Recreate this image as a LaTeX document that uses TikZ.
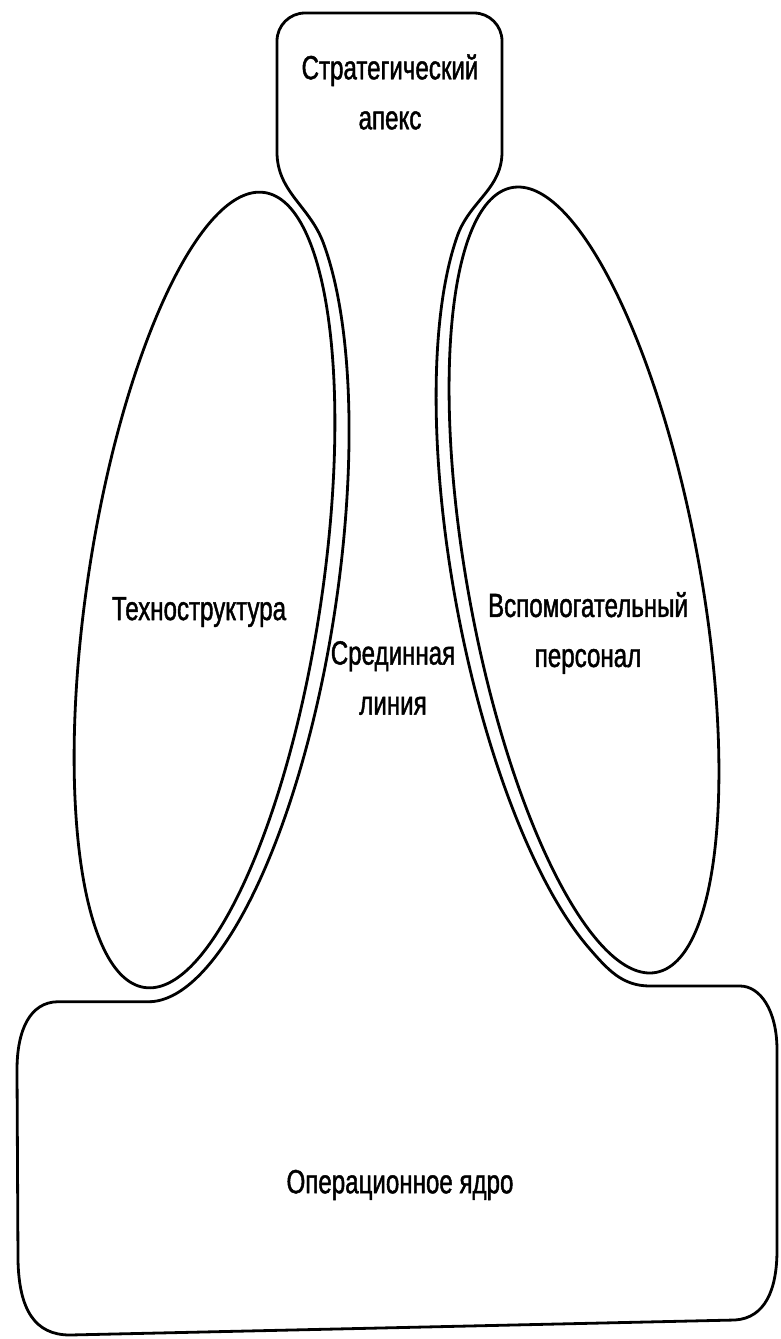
\documentclass[tikz,border=0pt]{standalone}
\usepackage{fontspec}
\setmainfont{Liberation Sans}[FakeStretch=0.72,FakeBold=1.3]
\begin{document}
\begin{tikzpicture}[x=1pt,y=1pt,line width=2.8pt,line cap=round,line join=round,
  lbl/.style={font=\fontsize{33.5}{50}\selectfont,align=center,inner sep=0pt}]
\useasboundingbox (0,0) rectangle (780,-1339);
\coordinate (ctl) at (58,0);
% Technostructure (left ellipse) and its outer offset (middle line boundary)
\begin{scope}[shift={(204.5,-590)},rotate=-8.6]
  \draw (0,0) ellipse (117pt and 402pt);
  \coordinate (Lb) at ({132*cos(-86.5)},{416*sin(-86.5)});
  \coordinate (Lt) at ({132*cos(60)},{416*sin(60)});
  \draw plot[domain=-86.5:60,samples=90,smooth] ({132*cos(\x)},{416*sin(\x)});
\end{scope}
% Support staff (right ellipse) and its outer offset
\begin{scope}[shift={(584,-580)},rotate=10.4]
  \draw (0,0) ellipse (116pt and 399pt);
  \coordinate (Rb) at ({130*cos(242)},{412*sin(242)});
  \coordinate (Rt) at ({130*cos(118)},{412*sin(118)});
  \draw plot[domain=118:242,samples=90,smooth] ({130*cos(\x)},{412*sin(\x)});
\end{scope}
% Strategic apex
\draw (Lt) to[out=110,in=-90] (277,-152)
  [rounded corners=28pt] -- (277,-13) -- (502,-13) [sharp corners] -- (502,-152)
  to[out=-90,in=68] (Rt);
% Operating core
\draw (Lb) -- (Lb -| ctl)
  .. controls (30,-1002) and (17,-1030) .. (17,-1070)
  -- (18,-1260) .. controls (19,-1310) and (35,-1335) .. (70,-1335)
  -- (735,-1320) .. controls (765,-1318) and (777,-1290) .. (777,-1250)
  -- (777,-1050) .. controls (777,-1010) and (760,-986) .. (740,-986)
  -- (650,-986) to[out=180,in=-49] (Rb);
% Labels
\node[lbl] (apex) at (390,-92) {Стратегический\\апекс};
\node[lbl] (tech) at (199,-612) {Техноструктура};
\node[lbl] (mid) at (393,-678) {Срединная\\линия};
\node[lbl] (supp) at (588,-633) {Вспомогательный\\персонал};
\node[lbl] (core) at (400,-1185) {Операционное ядро};
\end{tikzpicture}
\end{document}
